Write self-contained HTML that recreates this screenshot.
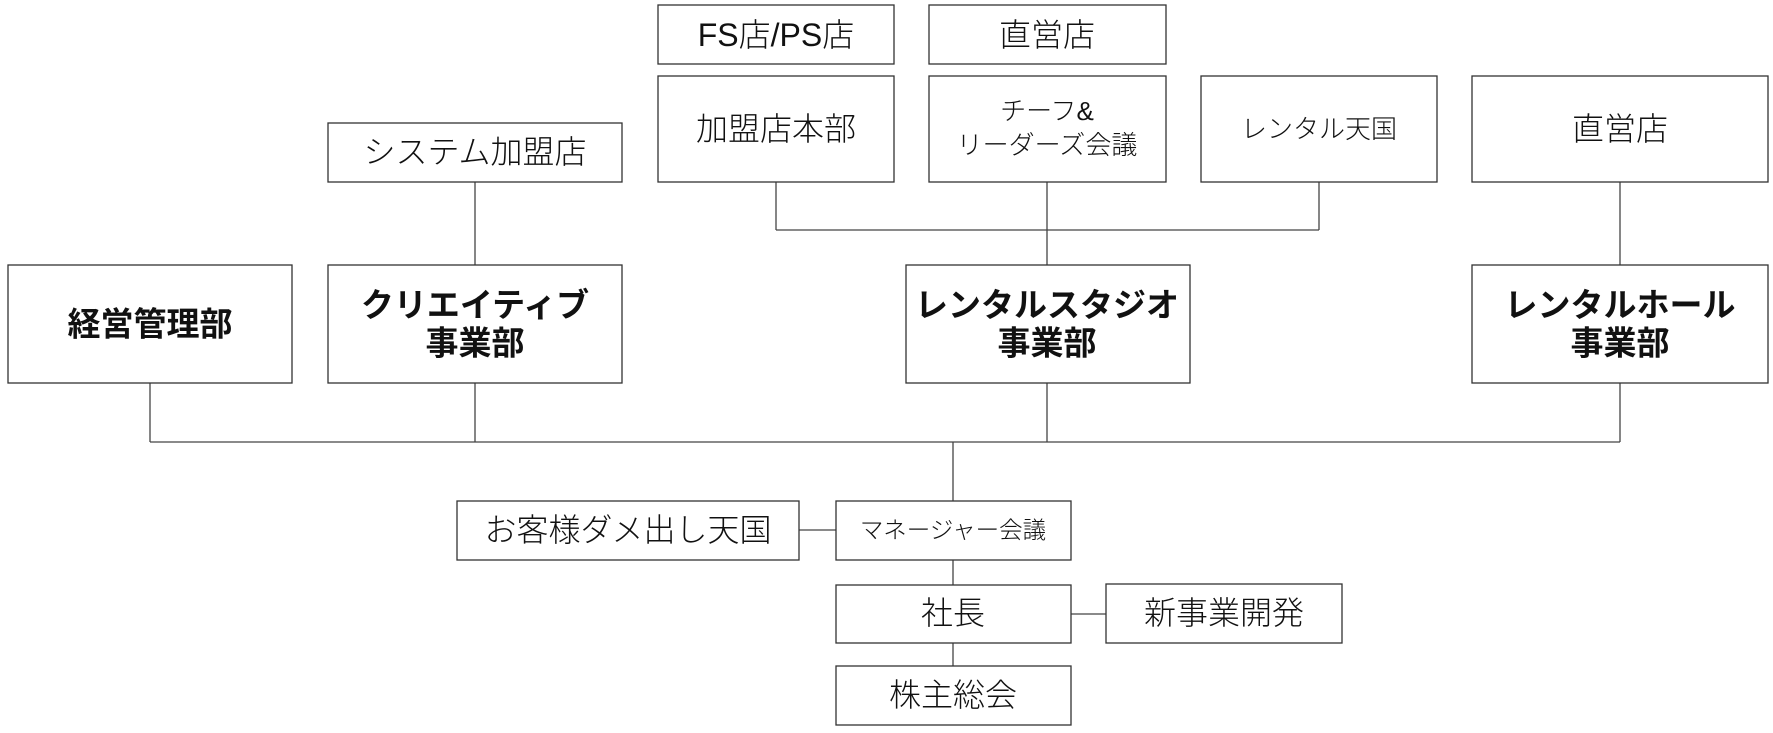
<!DOCTYPE html>
<html><head><meta charset="utf-8"><style>
html,body{margin:0;padding:0;background:#fff;}
svg{display:block;}
text{font-family:"Liberation Sans","Noto Sans CJK JP",sans-serif;fill:#111;text-anchor:middle;dominant-baseline:central;}
.b{font-weight:bold;font-size:33px;}
.n{font-size:32px;font-weight:300;}
.s{font-size:26px;font-weight:300;}
rect{fill:#fff;stroke:#333;stroke-width:1.3;}
line{stroke:#444;stroke-width:1.3;}
</style></head><body>
<svg width="1773" height="733" viewBox="0 0 1773 733" xmlns="http://www.w3.org/2000/svg">
<line x1="776" y1="182" x2="776" y2="230"/>
<line x1="1319" y1="182" x2="1319" y2="230"/>
<line x1="776" y1="230" x2="1319" y2="230"/>
<line x1="1047" y1="182" x2="1047" y2="265"/>
<line x1="475" y1="182" x2="475" y2="265"/>
<line x1="1620" y1="182" x2="1620" y2="265"/>
<line x1="150" y1="383" x2="150" y2="442"/>
<line x1="475" y1="383" x2="475" y2="442"/>
<line x1="1047" y1="383" x2="1047" y2="442"/>
<line x1="1620" y1="383" x2="1620" y2="442"/>
<line x1="150" y1="442" x2="1620" y2="442"/>
<line x1="953" y1="442" x2="953" y2="501"/>
<line x1="799" y1="530" x2="836" y2="530"/>
<line x1="953" y1="560" x2="953" y2="585"/>
<line x1="1071" y1="614" x2="1106" y2="614"/>
<line x1="953" y1="643" x2="953" y2="666"/>
<rect x="658" y="5" width="236" height="59"/><text class="n" x="776" y="35">FS店/PS店</text>
<rect x="929" y="5" width="237" height="59"/><text class="n" x="1047" y="35">直営店</text>
<rect x="658" y="76" width="236" height="106"/><text class="n" x="776" y="129">加盟店本部</text>
<rect x="929" y="76" width="237" height="106"/><text class="s" x="1047" y="111">チーフ&amp;</text><text class="s" x="1047" y="145">リーダーズ会議</text>
<rect x="1201" y="76" width="236" height="106"/><text class="s" x="1319" y="129">レンタル天国</text>
<rect x="1472" y="76" width="296" height="106"/><text class="n" x="1620" y="129">直営店</text>
<rect x="328" y="123" width="294" height="59"/><text class="n" x="475" y="152">システム加盟店</text>
<rect x="8" y="265" width="284" height="118"/><text class="b" x="150" y="324">経営管理部</text>
<rect x="328" y="265" width="294" height="118"/><text class="b" x="475" y="305">クリエイティブ</text><text class="b" x="475" y="343">事業部</text>
<rect x="906" y="265" width="284" height="118"/><text class="b" x="1047" y="305">レンタルスタジオ</text><text class="b" x="1047" y="343">事業部</text>
<rect x="1472" y="265" width="296" height="118"/><text class="b" x="1620" y="305">レンタルホール</text><text class="b" x="1620" y="343">事業部</text>
<rect x="457" y="501" width="342" height="59"/><text class="n" x="628" y="530">お客様ダメ出し天国</text>
<rect x="836" y="501" width="235" height="59"/><text x="953" y="530" style="font-size:23.5px;font-weight:300">マネージャー会議</text>
<rect x="836" y="585" width="235" height="58"/><text class="n" x="953" y="613">社長</text>
<rect x="1106" y="584" width="236" height="59"/><text class="n" x="1224" y="613">新事業開発</text>
<rect x="836" y="666" width="235" height="59"/><text class="n" x="953" y="695">株主総会</text>
</svg>
</body></html>
